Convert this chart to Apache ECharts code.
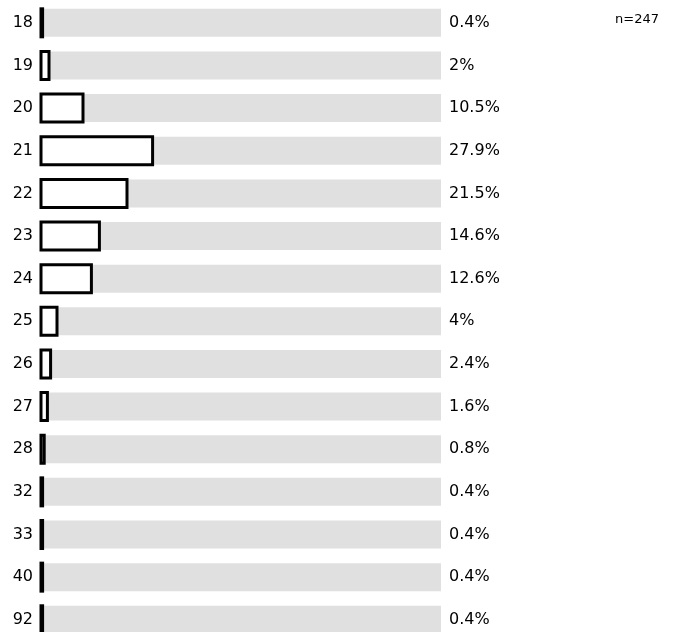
<!DOCTYPE html>
<html>
<head>
<meta charset="utf-8">
<script src="https://cdn.jsdelivr.net/npm/echarts@6/dist/echarts.min.js"></script>
<style>
  html, body { margin: 0; padding: 0; background: #fff; }
  #chart { width: 678px; height: 632px; }
</style>
</head>
<body>
<div id="chart"></div>
<script>
  // ages and share of respondents (%)
  var ages = ['18', '19', '20', '21', '22', '23', '24', '25', '26', '27', '28', '32', '33', '40', '92'];
  var shares = [0.4, 2, 10.5, 27.9, 21.5, 14.6, 12.6, 4, 2.4, 1.6, 0.8, 0.4, 0.4, 0.4, 0.4];
  var sampleSize = 'n=247';

  var chart = echarts.init(document.getElementById('chart'));
  var font = 'DejaVu Sans, sans-serif';
  var barH = 28;

  // outlined bar, stroke centred on the edge like the original
  function renderBar(params, api) {
    var start = api.coord([0, api.value(1)]);
    var end = api.coord([api.value(0), api.value(1)]);
    return {
      type: 'rect',
      shape: { x: start[0], y: start[1] - barH / 2, width: end[0] - start[0], height: barH },
      style: { fill: '#fff', stroke: '#000', lineWidth: 3 }
    };
  }

  var option = {
    animation: false,
    graphic: [{
      type: 'text',
      x: 615,
      y: 20,
      style: { text: sampleSize, font: '13px ' + font, fill: '#000', verticalAlign: 'middle' }
    }],
    grid: { left: 41, width: 400, top: 1.5, height: 639.6, outerBoundsMode: 'none' },
    xAxis: {
      type: 'value',
      min: 0,
      max: 100,
      show: false
    },
    yAxis: [{
      type: 'category',
      data: ages,
      inverse: true,
      axisLine: { show: false },
      axisTick: { show: false },
      axisLabel: { color: '#000', fontSize: 16, fontFamily: font, margin: 8 }
    }, {
      type: 'category',
      data: shares.map(function (v) { return v + '%'; }),
      inverse: true,
      position: 'right',
      axisLine: { show: false },
      axisTick: { show: false },
      axisLabel: { color: '#000', fontSize: 16, fontFamily: font, margin: 8 }
    }],
    series: [{
      // grey track behind each bar
      type: 'bar',
      data: shares,
      barWidth: barH,
      showBackground: true,
      backgroundStyle: { color: '#e0e0e0' },
      itemStyle: { color: 'rgba(0,0,0,0)' }
    }, {
      type: 'custom',
      renderItem: renderBar,
      data: shares.map(function (v, i) { return [v, i]; }),
      encode: { x: 0, y: 1 }
    }]
  };

  chart.setOption(option);
</script>
</body>
</html>
